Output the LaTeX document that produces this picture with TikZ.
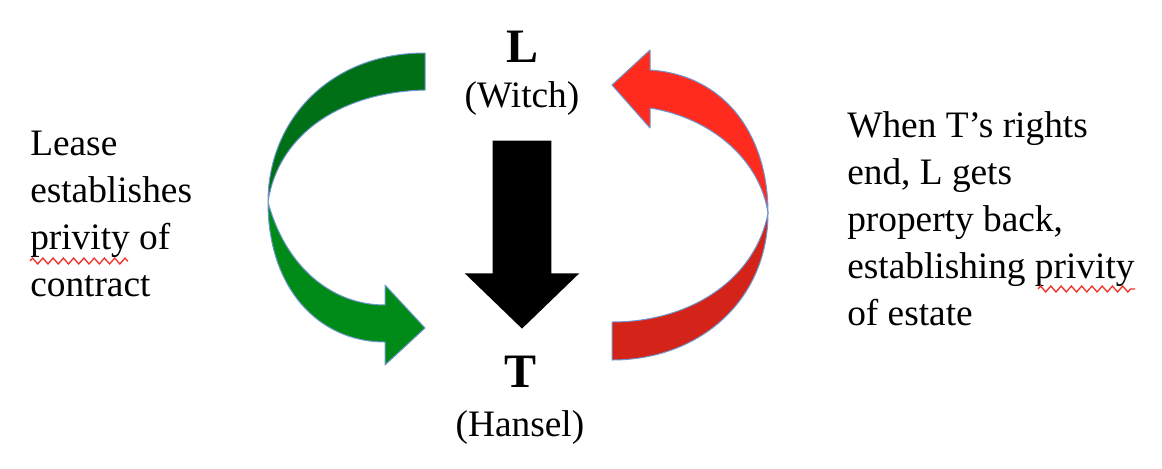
\documentclass[tikz,border=0pt]{standalone}
\usepackage{fontspec}
\setmainfont{Liberation Serif}
\usetikzlibrary{positioning, shapes.arrows, decorations.pathmorphing}
\definecolor{leasedark}{RGB}{0,112,22}
\definecolor{leaselight}{RGB}{0,138,24}
\definecolor{estatelight}{RGB}{255,43,30}
\definecolor{estatedark}{RGB}{212,35,24}
\definecolor{rim}{RGB}{110,150,205}
\definecolor{squiggle}{RGB}{240,50,40}
\tikzset{
  party/.style={font=\fontsize{36}{40}\selectfont\bfseries, inner sep=0pt, anchor=base},
  who/.style={font=\fontsize{28}{34}\selectfont, inner sep=0pt},
  note/.style={font=\fontsize{28}{35.25}\selectfont, align=left, inner sep=0pt, anchor=west},
  ribbon/.style={draw=rim, line width=0.75pt, line join=round},
  blockarrow/.style={single arrow, fill=black, rotate=-90, inner xsep=0pt, inner ysep=21.75pt,
    minimum height=141pt, minimum width=85.5pt, single arrow head extend=21pt,
    single arrow tip angle=92},
  spell/.style={draw=squiggle, line width=1pt, decorate,
    decoration={zigzag, amplitude=2.2pt, segment length=7.7pt}}
}
\begin{document}
\begin{tikzpicture}[x=0.75pt, y=-0.75pt]
\useasboundingbox (0,0) rectangle (1162,468);
\node[party] (L) at (522,62) {L};
\node[who, below=34pt of L.base, anchor=base] (witch) {(Witch)};
\node[party] (T) at (520,387) {T};
\node[who, below=36.75pt of T.base, anchor=base] (hansel) {(Hansel)};
\node[blockarrow, below=24.75pt of witch.base, anchor=tail] (down) {};
\node[note] (lease) at (30,214) {Lease\\establishes\\privity of\\contract};
\node[note] (estate) at (847,219) {When T’s rights\\end, L gets\\property back,\\establishing privity\\of estate};
% green ribbon, lease
\filldraw[ribbon, fill=leasedark] (425,53) .. controls (330,53) and (268,120) .. (268,202)
  .. controls (278,135) and (340,92) .. (425,90) -- cycle;
\filldraw[ribbon, fill=leaselight] (268,202) .. controls (268,290) and (320,342) .. (385,342)
  -- (385,365) -- (425,328) -- (385,285) -- (385,305)
  .. controls (330,305) and (285,265) .. (268,202) -- cycle;
% red ribbon, estate
\filldraw[ribbon, fill=estatelight] (650,70) .. controls (725,75) and (768,135) .. (768,213)
  .. controls (760,160) and (712,118) .. (650,108) -- (650,128) -- (612,85) -- (650,50) -- cycle;
\filldraw[ribbon, fill=estatedark] (768,213) .. controls (768,300) and (700,360) .. (612,360)
  -- (612,322) .. controls (690,322) and (755,280) .. (768,213) -- cycle;
% spelling marks
\draw[spell] (30,261) -- (128,261);
\draw[spell] (1038,289) -- (1135,289);
\end{tikzpicture}
\end{document}
